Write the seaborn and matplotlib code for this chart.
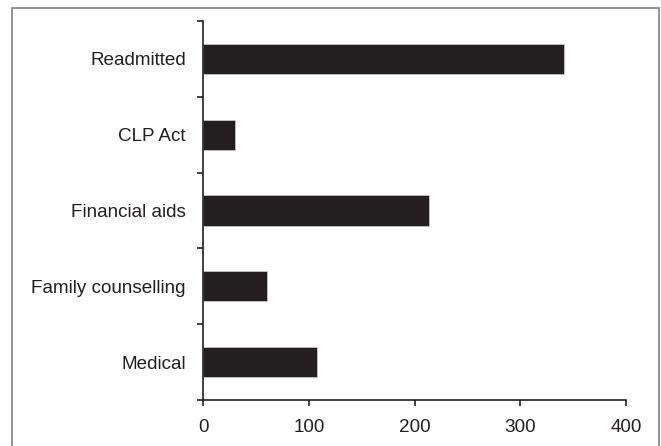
import matplotlib
matplotlib.use("Agg")
import matplotlib.pyplot as plt
import seaborn as sns
import pandas as pd
from matplotlib.patches import Rectangle
from matplotlib.ticker import FixedLocator

categories = ["Readmitted", "CLP Act", "Financial aids", "Family counselling", "Medical"]
values = [341, 30, 214, 60, 108]
xticks = [0, 100, 200, 300, 400]

sns.set_style("white")
plt.rcParams['font.family'] = ['Liberation Sans', 'DejaVu Sans']

df = pd.DataFrame({"category": categories, "value": values})

fig = plt.figure(figsize=(6.61, 4.46), dpi=100)
ax = fig.add_axes([203.3 / 661, 1 - 400 / 446, (626 - 203.3) / 661, (400 - 21) / 446])

sns.barplot(data=df, x="value", y="category", orient="h", color="#231f20",
            saturation=1, width=0.4, edgecolor="#cfcfcf", linewidth=0.5, ax=ax)

ax.set_xlim(0, 400)
ax.set_ylim(len(categories) - 0.5, -0.5)
ax.set_xticks(xticks)
ax.set_xticklabels([str(t) for t in xticks])
ax.set_xlabel("")
ax.set_ylabel("")

ax.yaxis.set_minor_locator(FixedLocator([i - 0.5 for i in range(len(categories) + 1)]))
ax.tick_params(axis="y", which="major", length=0, pad=12.5, labelsize=13.6, labelcolor="#231f20")
ax.tick_params(axis="y", which="minor", length=4, width=1.2, color="#231f20", direction="out", left=True)
ax.tick_params(axis="x", which="major", length=4, width=1.2, color="#231f20", direction="out",
               bottom=True, pad=10, labelsize=13.6, labelcolor="#231f20")

for side in ["top", "right"]:
    ax.spines[side].set_visible(False)
for side in ["left", "bottom"]:
    ax.spines[side].set_visible(True)
    ax.spines[side].set_color("#231f20")
    ax.spines[side].set_linewidth(1.2)

border = Rectangle((12 / 661, -0.05), (659 - 12) / 661, 1 - 7.5 / 446 + 0.05,
                   transform=fig.transFigure, fill=False, edgecolor="#8a8a8a",
                   linewidth=1.3, clip_on=False)
fig.patches.append(border)

fig.savefig("out.png", dpi=100)
